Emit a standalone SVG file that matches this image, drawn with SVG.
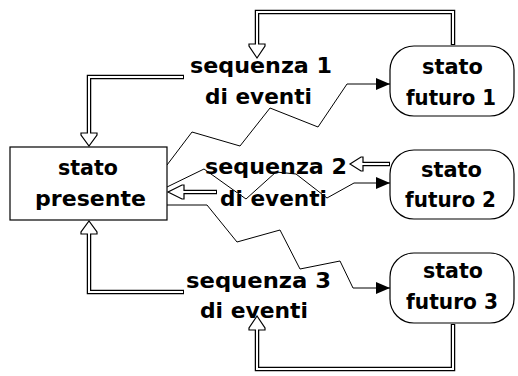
<svg xmlns="http://www.w3.org/2000/svg" width="518" height="376" viewBox="0 0 518 376">
<defs>
<marker id="arr" viewBox="0 0 14 12" refX="14" refY="6" markerWidth="14" markerHeight="12" markerUnits="userSpaceOnUse" orient="auto">
<path d="M0,0 L14,6 L0,12 z" fill="#000"/>
</marker>
<style>
.t{font-family:"DejaVu Sans","Liberation Sans",sans-serif;font-weight:bold;font-size:21px;fill:#000}
.box{fill:#fff;stroke:#000;stroke-width:1.2}
.thin{fill:none;stroke:#000;stroke-width:1;stroke-linejoin:miter}
.dbo{fill:none;stroke:#000;stroke-width:4.5;stroke-linejoin:miter}
.dbi{fill:none;stroke:#fff;stroke-width:2;stroke-linejoin:miter}
.oa{fill:#fff;stroke:#000;stroke-width:1.2;stroke-linejoin:miter}
</style>
</defs>
<rect width="518" height="376" fill="#fff"/>

<g id="connectors">
<path class="thin" marker-end="url(#arr)" d="M167 165 L192 132 L240 146 L270 108 L318 127 L347 84 L390 84"/>
<path class="thin" marker-end="url(#arr)" d="M167 187 L204 169 L246 199 L276 172 L296 174 L327 198 L354 183 L390 183"/>
<path class="thin" marker-end="url(#arr)" d="M167 205 L207 205 L237 242 L280 230 L300 269 L340 261 L353 288 L390 288"/>

<path class="dbo" d="M453 45 V12 H257 V44"/>
<polygon class="oa" points="249,44 265,44 265,46 257,58 249,46"/>
<path class="dbi" d="M453 44 V12 H257 V46"/>

<path class="dbo" d="M184 77 H89 V133"/>
<polygon class="oa" points="81,133 97,133 97,135 89,146 81,135"/>
<path class="dbi" d="M183 77 H89 V135"/>

<path class="dbo" d="M390 164 H363"/>
<polygon class="oa" points="363,157 363,171 361,171 350,164 361,157"/>
<path class="dbi" d="M389 164 H361"/>

<path class="dbo" d="M217 192 H184"/>
<polygon class="oa" points="184,185 184,199 182,199 168,192 182,185"/>
<path class="dbi" d="M216 192 H182"/>

<path class="dbo" d="M184 292 H89 V234"/>
<polygon class="oa" points="81,234 97,234 97,232 89,221 81,232"/>
<path class="dbi" d="M183 292 H89 V232"/>

<path class="dbo" d="M453 324 V369 H257 V330"/>
<polygon class="oa" points="249,330 265,330 265,328 257,316 249,328"/>
<path class="dbi" d="M453 325 V369 H257 V328"/>
</g>

<g id="stato-presente">
<rect class="box" x="10" y="147" width="157" height="73"/>
<text class="t" x="58" y="175" textLength="60" lengthAdjust="spacingAndGlyphs">stato</text>
<text class="t" x="35" y="206" textLength="111" lengthAdjust="spacingAndGlyphs">presente</text>
</g>

<g id="seq1">
<text class="t" x="190" y="73" textLength="142" lengthAdjust="spacingAndGlyphs">sequenza 1</text>
<text class="t" x="205" y="104" textLength="107" lengthAdjust="spacingAndGlyphs">di eventi</text>
</g>

<g id="seq2">
<text class="t" x="205" y="174" textLength="142" lengthAdjust="spacingAndGlyphs">sequenza 2</text>
<text class="t" x="220" y="206" textLength="107" lengthAdjust="spacingAndGlyphs">di eventi</text>
</g>

<g id="seq3">
<text class="t" x="186" y="288" textLength="145" lengthAdjust="spacingAndGlyphs">sequenza 3</text>
<text class="t" x="200" y="318" textLength="108" lengthAdjust="spacingAndGlyphs">di eventi</text>
</g>

<g id="futuro1">
<rect class="box" x="390" y="46" width="124" height="70" rx="24" ry="24"/>
<text class="t" x="422" y="74" textLength="61" lengthAdjust="spacingAndGlyphs">stato</text>
<text class="t" x="406" y="105" textLength="90" lengthAdjust="spacingAndGlyphs">futuro 1</text>
</g>

<g id="futuro2">
<rect class="box" x="390" y="150" width="124" height="69" rx="24" ry="24"/>
<text class="t" x="421" y="177" textLength="61" lengthAdjust="spacingAndGlyphs">stato</text>
<text class="t" x="405" y="207" textLength="91" lengthAdjust="spacingAndGlyphs">futuro 2</text>
</g>

<g id="futuro3">
<rect class="box" x="390" y="253" width="124" height="70" rx="24" ry="24"/>
<text class="t" x="423" y="278" textLength="60" lengthAdjust="spacingAndGlyphs">stato</text>
<text class="t" x="406" y="309" textLength="92" lengthAdjust="spacingAndGlyphs">futuro 3</text>
</g>
</svg>
